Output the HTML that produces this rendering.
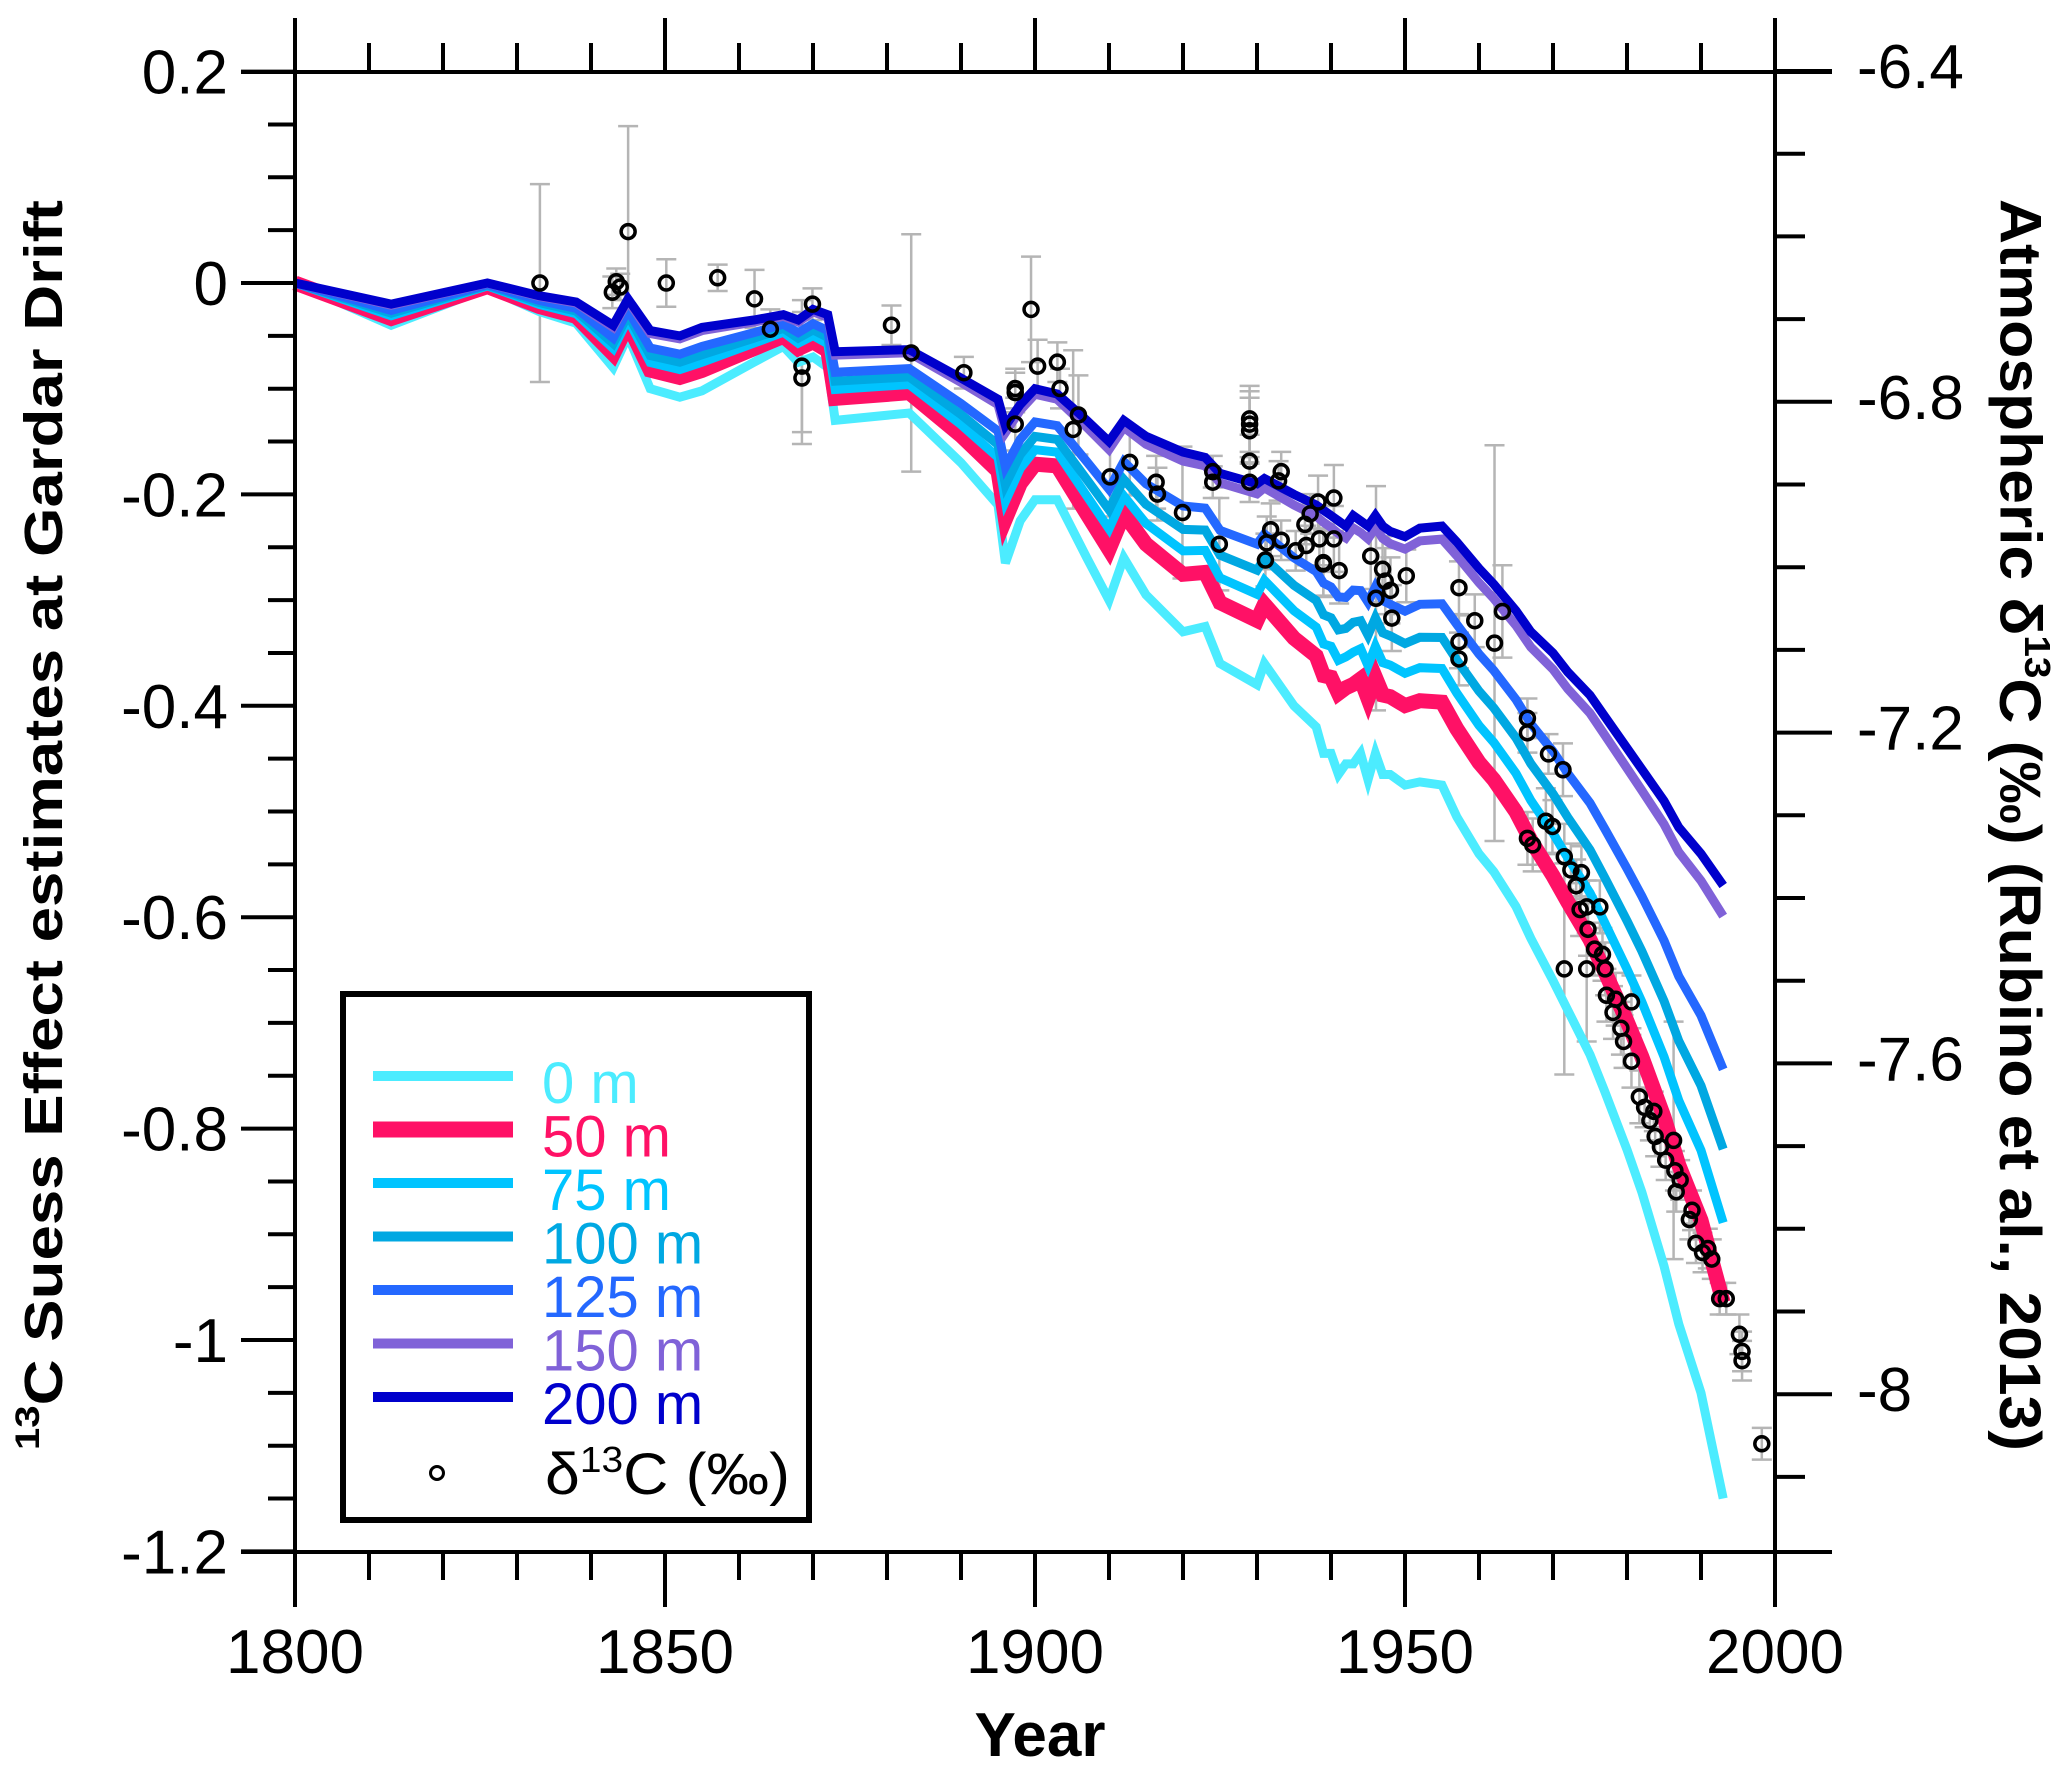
<!DOCTYPE html>
<html><head><meta charset="utf-8"><style>
html,body{margin:0;padding:0;background:#fff;}
svg{display:block;font-family:"Liberation Sans",Arial,sans-serif;}
</style></head><body>
<svg id="c" width="2067" height="1769" viewBox="0 0 2067 1769" xmlns="http://www.w3.org/2000/svg">
<rect width="2067" height="1769" fill="#fff"/>
<g id="err" stroke="#b5b5b5" stroke-width="2.5" fill="none"></g>
<g id="curves" fill="none" stroke-linejoin="miter" stroke-linecap="butt"></g>
<g id="pts" stroke="#000" stroke-width="3.5" fill="none"></g>
<g id="axes" stroke="#000" stroke-width="4" fill="none"></g>
<g id="labels" font-size="62" fill="#000"></g>
<text transform="translate(44,825) rotate(-90)" text-anchor="middle" dominant-baseline="central" font-weight="bold" font-size="54" textLength="1250" lengthAdjust="spacingAndGlyphs"><tspan font-size="34" dy="-16">13</tspan><tspan dy="16">C Suess Effect estimates at Gardar Drift</tspan></text>
<text transform="translate(2020,825) rotate(90)" text-anchor="middle" dominant-baseline="central" font-weight="bold" font-size="58" textLength="1252" lengthAdjust="spacingAndGlyphs">Atmospheric δ<tspan font-size="36" dy="-18">13</tspan><tspan dy="18">C (‰) (Rubino et al., 2013)</tspan></text>
<text x="1040" y="1756" text-anchor="middle" font-weight="bold" font-size="62">Year</text>
<rect x="343" y="994" width="466" height="526" fill="#fff" stroke="#000" stroke-width="6"/>
<g id="leg"></g>
<circle cx="437" cy="1473" r="6.5" stroke="#000" stroke-width="3" fill="none"/>
<text x="545" y="1494" font-size="58" textLength="245" lengthAdjust="spacingAndGlyphs">δ<tspan font-size="36" dy="-22">13</tspan><tspan dy="22">C (‰)</tspan></text>
</svg>
<script>
var NS="http://www.w3.org/2000/svg";
function el(p,t,a,txt){var e=document.createElementNS(NS,t);for(var k in a)e.setAttribute(k,a[k]);if(txt!=null)e.textContent=txt;p.appendChild(e);return e;}
function X(yr){return 295+(yr-1800)*7.4;}
function Y(v){return 283-v*1057;}
var years=[1800,1813,1826,1833,1838,1843,1845,1848,1852,1855,1862,1866,1868,1870,1872,1873,1883,1890,1895,1896,1898,1900,1903,1907,1910,1912,1915,1920,1923,1925,1930,1931,1935,1938,1939,1940,1941,1942,1943,1944,1945,1946,1947,1948,1950,1952,1955,1957,1960,1962,1965,1967,1970,1972,1975,1977,1980,1982,1985,1987,1990,1993];
var base=[0,-.02,0,-.012,-.018,-.04,-.015,-.045,-.05,-.042,-.035,-.03,-.035,-.025,-.03,-.065,-.063,-.09,-.11,-.135,-.115,-.10,-.105,-.13,-.15,-.13,-.145,-.16,-.165,-.18,-.19,-.185,-.20,-.21,-.215,-.22,-.225,-.23,-.22,-.225,-.23,-.22,-.23,-.235,-.24,-.232,-.23,-.245,-.27,-.285,-.31,-.33,-.35,-.368,-.39,-.41,-.44,-.46,-.49,-.515,-.54,-.57];
var g=[0,.02,.005,.015,.02,.04,.035,.055,.058,.06,.04,.03,.04,.045,.05,.065,.06,.08,.10,.13,.11,.105,.1,.13,.15,.13,.15,.17,.16,.18,.19,.175,.2,.21,.23,.225,.24,.225,.235,.22,.24,.225,.235,.23,.235,.24,.245,.26,.27,.272,.28,.29,.31,.32,.34,.355,.38,.40,.44,.47,.51,.58];
var series=[["0 m","#4cecff",1,9],["50 m","#ff1166",.68,15],["75 m","#00c4ff",.55,9],["100 m","#00a8e2",.43,9],["125 m","#2468ff",.3,9],["150 m","#8062d8",.05,9],["200 m","#0000cc",0,9]];
var cg=document.getElementById("curves"),lg=document.getElementById("leg");
series.forEach(function(s,i){
 var d="";for(var j=0;j<years.length;j++){d+=(j?"L":"M")+X(years[j]).toFixed(1)+","+Y(base[j]-s[2]*g[j]).toFixed(1);}
 el(cg,"path",{d:d,stroke:s[1],"stroke-width":s[3]});
 var ly=1076+i*53.5;
 el(lg,"line",{x1:373,x2:513,y1:ly,y2:ly,stroke:s[1],"stroke-width":s[3]+1});
 el(lg,"text",{x:542,y:ly+27,fill:s[1],"font-size":58},s[0]);
});
var P=[[409,215,75],[464,222,12],[467,214,10],[470,218,10],[476,176,80],[505,215,18],[544,211,10],[572,227,22],[584,250,15],[608,278,50],[608,287,50],[616,231,12],[676,247,15],[691,268,90],[731,283,12],[770,295,15],[770,298,15],[770,322,20],[782,235,40],[787,278,20],[802,275,15],[804,295,15],[814,326,60],[818,315,30],[842,362,30],[857,351,25],[877,366,20],[878,375,20],[897,389,50],[920,358,12],[920,366,12],[925,413,35],[948,318,25],[948,322,25],[948,327,25],[948,350,20],[948,366,15],[960,425,20],[961,412,20],[964,402,20],[970,365,15],[972,358,15],[972,410,15],[983,418,15],[990,398,15],[991,414,15],[994,390,15],[1000,381,20],[1001,409,20],[1004,427,25],[1004,428,25],[1012,378,25],[1012,409,25],[1016,433,25],[1040,422,25],[1044,454,85],[1049,432,25],[1051,441,25],[1055,448,25],[1056,469,25],[1067,437,20],[1107,446,20],[1107,487,20],[1107,500,20],[1119,471,20],[1134,488,150],[1140,464,35],[1159,545,15],[1159,556,15],[1175,572,15],[1173,623,25],[1178,627,20],[1186,584,20],[1159,636,20],[1163,641,20],[1187,650,25],[1192,660,20],[1196,672,20],[1199,690,20],[1204,688,20],[1200,662,20],[1205,705,20],[1187,735,80],[1204,735,55],[1210,720,20],[1214,688,20],[1216,724,20],[1218,735,20],[1219,755,20],[1224,768,20],[1226,758,20],[1230,780,20],[1232,790,20],[1238,760,20],[1238,805,20],[1244,832,20],[1248,840,15],[1252,850,15],[1255,843,15],[1256,862,15],[1260,870,15],[1264,880,15],[1270,865,90],[1271,888,15],[1272,904,15],[1275,895,15],[1282,925,15],[1284,918,15],[1287,943,15],[1292,950,15],[1296,947,15],[1299,955,15],[1305,985,12],[1310,985,12],[1320,1012,15],[1322,1025,15],[1322,1032,15],[1337,1095,12]];
var eg=document.getElementById("err"),pg=document.getElementById("pts");
P.forEach(function(p){
 var x=295+(p[0]-223)*1.3167,y=72+(p[1]-55)*1.319,e=p[2]*1.319;
 el(eg,"path",{d:"M"+x+","+(y-e)+"V"+(y+e)+"M"+(x-10)+","+(y-e)+"h20M"+(x-10)+","+(y+e)+"h20"});
 el(pg,"circle",{cx:x,cy:y,r:7});
});
var ax=document.getElementById("axes"),lb=document.getElementById("labels");
el(ax,"path",{d:"M241,72H1832M241,1552H1832M295,18V1607M1775,18V1607"});
for(var yr=1800;yr<=2000;yr+=10){var x=X(yr),maj=yr%50==0;
 el(ax,"path",{d:"M"+x+",72V"+(maj?18:43)+"M"+x+",1552V"+(maj?1607:1580)});
 if(maj)el(lb,"text",{x:x,y:1673,"text-anchor":"middle"},String(yr));}
for(var k=0;k<=28;k++){var v=0.2-k*0.05,y=Y(v),maj=k%4==0;
 el(ax,"path",{d:"M295,"+y+"H"+(maj?241:268)});
 if(maj){var t=Math.round(v*10)/10;el(lb,"text",{x:228,y:y+22,"text-anchor":"end"},t==0?"0":String(t));}}
for(var k=0;k<=17;k++){var y=71+k*82.7,maj=k%4==0;
 el(ax,"path",{d:"M1775,"+y+"H"+(maj?1832:1805)});
 if(maj){var t=-(6.4+k*0.1);t=Math.round(t*10)/10;el(lb,"text",{x:1857,y:y+17},t==-8?"-8":t.toFixed(1));}}
</script>
</body></html>
